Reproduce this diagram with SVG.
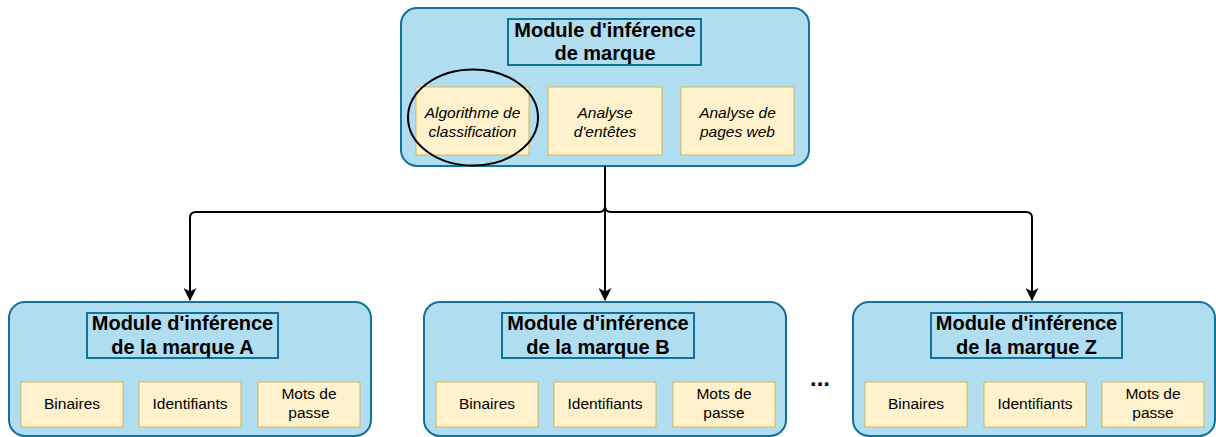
<svg xmlns="http://www.w3.org/2000/svg" width="1216" height="437" viewBox="0 0 1216 437">
<style>
.cont{fill:#b1ddf0;stroke:#10739e;stroke-width:2}
.ttl{fill:none;stroke:#10739e;stroke-width:2}
.item{fill:#fff2cc;stroke:#d6b656;stroke-width:1}
.tt{font-family:"Liberation Sans",Arial,sans-serif;font-weight:bold;font-size:20px;fill:#000;text-anchor:middle}
.it{font-family:"Liberation Sans",Arial,sans-serif;font-style:italic;font-size:15.5px;fill:#000;text-anchor:middle}
.rt{font-family:"Liberation Sans",Arial,sans-serif;font-size:15.5px;fill:#000;text-anchor:middle}
.edge{fill:none;stroke:#000;stroke-width:2}
</style>
<defs>
<marker id="arr" viewBox="0 0 13 13" refX="12" refY="6.5" markerWidth="13" markerHeight="13" orient="auto" markerUnits="userSpaceOnUse">
<path d="M0,0 L13,6.5 L0,13 L3.5,6.5 Z" fill="#000"/>
</marker>
</defs>
<g id="top">
<rect class="cont" x="401" y="8" width="408" height="158" rx="16"/>
<rect class="ttl" x="508" y="19" width="193" height="46"/>
<text class="tt" x="605" y="37">Module d'inférence</text>
<text class="tt" x="605" y="60">de marque</text>
<rect class="item" x="416" y="87" width="113" height="68"/>
<text class="it" x="472.5" y="118">Algorithme de</text>
<text class="it" x="472.5" y="137">classification</text>
<rect class="item" x="548" y="87" width="114" height="68"/>
<text class="it" x="605" y="118">Analyse</text>
<text class="it" x="605" y="137">d'entêtes</text>
<rect class="item" x="681" y="87" width="113" height="68"/>
<text class="it" x="737.5" y="118">Analyse de</text>
<text class="it" x="737.5" y="137">pages web</text>
<ellipse cx="473" cy="117.5" rx="65" ry="48" fill="none" stroke="#000" stroke-width="2"/>
</g>
<g id="nodeA">
<rect class="cont" x="9" y="302" width="362" height="134" rx="16"/>
<rect class="ttl" x="87" y="313" width="191" height="45"/>
<text class="tt" x="182.5" y="330">Module d'inférence</text>
<text class="tt" x="182.5" y="354">de la marque A</text>
<rect class="item" x="21" y="382" width="102" height="45"/>
<text class="rt" x="72" y="409">Binaires</text>
<rect class="item" x="139" y="382" width="102" height="45"/>
<text class="rt" x="190" y="409">Identifiants</text>
<rect class="item" x="258" y="382" width="102" height="45"/>
<text class="rt" x="309" y="399">Mots de</text>
<text class="rt" x="309" y="418">passe</text>
</g>
<g id="nodeB">
<rect class="cont" x="424" y="302" width="362" height="134" rx="16"/>
<rect class="ttl" x="502" y="313" width="192" height="45"/>
<text class="tt" x="598" y="330">Module d'inférence</text>
<text class="tt" x="598" y="354">de la marque B</text>
<rect class="item" x="436" y="382" width="102" height="45"/>
<text class="rt" x="487" y="409">Binaires</text>
<rect class="item" x="554" y="382" width="102" height="45"/>
<text class="rt" x="605" y="409">Identifiants</text>
<rect class="item" x="673" y="382" width="102" height="45"/>
<text class="rt" x="724" y="399">Mots de</text>
<text class="rt" x="724" y="418">passe</text>
</g>
<g id="nodeZ">
<rect class="cont" x="853" y="302" width="362" height="134" rx="16"/>
<rect class="ttl" x="931" y="313" width="191" height="45"/>
<text class="tt" x="1026.5" y="330">Module d'inférence</text>
<text class="tt" x="1026.5" y="354">de la marque Z</text>
<rect class="item" x="865" y="382" width="102" height="45"/>
<text class="rt" x="916" y="409">Binaires</text>
<rect class="item" x="984" y="382" width="102" height="45"/>
<text class="rt" x="1035" y="409">Identifiants</text>
<rect class="item" x="1102" y="382" width="102" height="45"/>
<text class="rt" x="1153" y="399">Mots de</text>
<text class="rt" x="1153" y="418">passe</text>
</g>
<text class="tt" x="820" y="386" style="font-size:24px">...</text>
<g id="connectors">
<path class="edge" d="M605 166 V206 Q605 212 599 212 H196 Q190 212 190 218 V300" marker-end="url(#arr)"/>
<path class="edge" d="M605 166 V300" marker-end="url(#arr)"/>
<path class="edge" d="M605 166 V206 Q605 212 611 212 H1026 Q1032 212 1032 218 V300" marker-end="url(#arr)"/>
</g>
</svg>
